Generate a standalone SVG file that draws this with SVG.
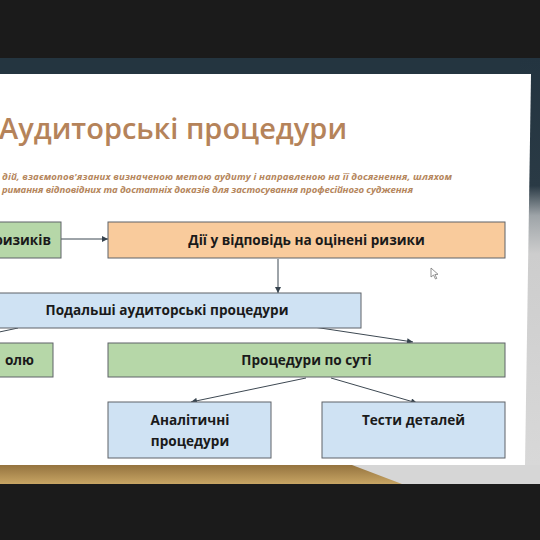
<svg xmlns="http://www.w3.org/2000/svg" width="540" height="540" viewBox="0 0 540 540">
<defs>
<linearGradient id="gold" x1="0" y1="0" x2="0" y2="1">
<stop offset="0" stop-color="#94733f"/>
<stop offset="1" stop-color="#c8a564"/>
</linearGradient>
<linearGradient id="rside" x1="0" y1="0" x2="0" y2="1">
<stop offset="0" stop-color="#233440"/>
<stop offset="0.3" stop-color="#2a3a45"/>
<stop offset="0.37" stop-color="#9ea4a8"/>
<stop offset="0.46" stop-color="#cdcdcd"/>
<stop offset="1" stop-color="#d9d9d9"/>
</linearGradient>
<marker id="ah" viewBox="0 0 10 10" refX="10" refY="5" markerWidth="7" markerHeight="6" markerUnits="userSpaceOnUse" orient="auto">
<path d="M0,0 L10,5 L0,10 z" fill="#36434e"/>
</marker>
<style>
.box{stroke:#5f6368;stroke-width:1}
.g{fill:#b6d7a8}
.o{fill:#f9cb9c}
.b{fill:#cfe2f3}
.lbl{font-family:"Open Sans","Liberation Sans",sans-serif;font-weight:700;font-size:13.6px;fill:#1a1a1a}
.c{text-anchor:middle}
.cn{stroke:#3d4852;stroke-width:1;fill:none}
.sub{font-family:"Open Sans","Liberation Sans",sans-serif;font-weight:700;font-style:italic;font-size:9.6px;fill:#b5865c}
</style>
</defs>
<rect x="0" y="0" width="540" height="540" fill="#1b1b1b"/>
<rect x="0" y="58" width="540" height="16" fill="#243540"/>
<rect x="520" y="58" width="20" height="426" fill="url(#rside)"/>
<rect x="0" y="465" width="540" height="19" fill="#d6d6d6"/>
<polygon points="0,465 352,465 402,484 0,484" fill="url(#gold)"/>
<polygon points="0,74 531,74 525,465 0,465" fill="#ffffff"/>

<text x="-1" y="139" font-family="Open Sans, Liberation Sans, sans-serif" font-weight="600" font-size="29" fill="#b5835a">Аудиторські процедури</text>
<text class="sub" x="2" y="179.5" textLength="450" lengthAdjust="spacing">дій, взаємопов'язаних визначеною метою аудиту і направленою на її досягнення, шляхом</text>
<text class="sub" x="2" y="192.5" textLength="411" lengthAdjust="spacing">римання відповідних та достатніх доказів для застосування професійного судження</text>

<g id="connectors">
<line class="cn" x1="61" y1="239" x2="108" y2="239" marker-end="url(#ah)"/>
<line class="cn" x1="278" y1="259" x2="278" y2="293" marker-end="url(#ah)"/>
<line class="cn" x1="307" y1="326" x2="413" y2="342" marker-end="url(#ah)"/>
<line class="cn" x1="18" y1="328" x2="-10" y2="334"/>
<line class="cn" x1="306" y1="378" x2="191" y2="402" marker-end="url(#ah)"/>
<line class="cn" x1="331" y1="378" x2="417" y2="403" marker-end="url(#ah)"/>
</g>

<g id="node-risks">
<rect class="box g" x="-5" y="222" width="66" height="36"/>
<text class="lbl" x="51" y="245" text-anchor="end">ризиків</text>
</g>
<g id="node-response">
<rect class="box o" x="108" y="222" width="397" height="36"/>
<text class="lbl c" x="306.5" y="245">Дії у відповідь на оцінені ризики</text>
</g>
<g id="node-further">
<rect class="box b" x="-5" y="293" width="366" height="35"/>
<text class="lbl c" x="167" y="315">Подальші аудиторські процедури</text>
</g>
<g id="node-control">
<rect class="box g" x="-5" y="343" width="58" height="34"/>
<text class="lbl" x="34" y="365" text-anchor="end">олю</text>
</g>
<g id="node-substantive">
<rect class="box g" x="108" y="343" width="397" height="34"/>
<text class="lbl c" x="306.5" y="365">Процедури по суті</text>
</g>
<g id="node-analytical">
<rect class="box b" x="108" y="402" width="163" height="56"/>
<text class="lbl c" x="190" y="425">Аналітичні</text>
<text class="lbl c" x="190" y="446">процедури</text>
</g>
<g id="node-tests">
<rect class="box b" x="322" y="402" width="183" height="56"/>
<text class="lbl c" x="413.5" y="425">Тести деталей</text>
</g>

<polygon points="431,268 431,277 433.5,275 435.5,279 436.8,278.4 434.9,274.5 438,274.3" fill="#ffffff" stroke="#777" stroke-width="0.8"/>
</svg>
